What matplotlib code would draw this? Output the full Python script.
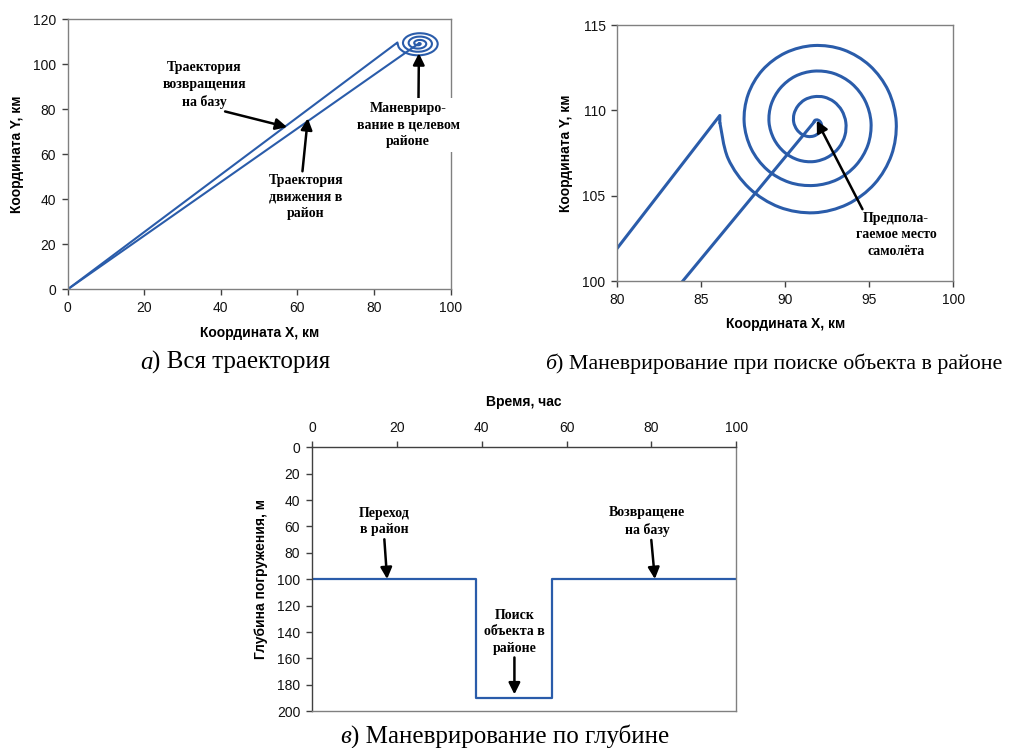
import numpy as np
import matplotlib
matplotlib.use('Agg')
import matplotlib.pyplot as plt
from matplotlib.path import Path
from matplotlib.patches import PathPatch

plt.rcParams['font.family'] = ['Liberation Sans', 'DejaVu Sans']

# --- data ---
base_x, base_y = 0.0, 0.0            # base (start/finish)
centre_x, centre_y = 91.7, 109.3     # assumed aircraft position (spiral centre)
exit_x, exit_y = 86.1, 109.7         # end of search spiral, start of return leg

# search spiral, clockwise outward, one value every 22.5 deg starting at 90 deg
spiral_r = [0.00, 0.10, 0.20, 0.30, 0.40, 0.50, 0.60, 0.70, 0.80, 0.90,
            1.00, 1.10, 1.20, 1.28, 1.35, 1.43, 1.50, 1.60, 1.70, 1.80,
            1.90, 2.00, 2.10, 2.20, 2.30, 2.39, 2.48, 2.57, 2.67, 2.75,
            2.83, 2.92, 3.00, 3.10, 3.20, 3.30, 3.40, 3.48, 3.55, 3.63,
            3.70, 3.81, 3.93, 4.04, 4.15, 4.24, 4.33, 4.41, 4.50, 4.60,
            4.70, 4.80, 4.90, 5.00, 5.10, 5.20, 5.30, 5.38, 5.45, 5.53,
            5.60]

# depth profile
depth_time = [0, 38.6, 38.6, 56.6, 56.6, 100]
depth_m = [100, 100, 190, 190, 100, 100]

# spiral points
ang = np.deg2rad(90 - 22.5 * np.arange(len(spiral_r)))
sp = np.column_stack([centre_x + np.array(spiral_r) * np.cos(ang),
                      centre_y + np.array(spiral_r) * np.sin(ang)])


def smooth_path(pts):
    # cubic Bezier through the points (Catmull-Rom tangents)
    p = np.vstack([pts[0], pts, pts[-1]])
    verts = [pts[0]]
    codes = [Path.MOVETO]
    for i in range(1, len(p) - 2):
        c1 = p[i] + (p[i + 1] - p[i - 1]) / 6
        c2 = p[i + 1] - (p[i + 2] - p[i]) / 6
        verts += [c1, c2, p[i + 1]]
        codes += [Path.CURVE4] * 3
    return Path(verts, codes)


blue = '#2a5caa'
frame = '#808080'
serif = 'Liberation Serif'
ann_kw = dict(fontfamily=serif, fontweight='bold', fontsize=10,
              ha='center', va='center', linespacing=1.35)
arr = dict(arrowstyle='-|>', color='black', lw=1.8, mutation_scale=17,
           shrinkA=0, shrinkB=0)


def style(ax):
    for s in ax.spines.values():
        s.set_color(frame)
        s.set_linewidth(1.0)
    ax.tick_params(direction='out', length=4, width=1, color='#404040',
                   labelsize=10, labelcolor='#111111', pad=4.5)


def draw_track(ax, lw):
    ax.plot([base_x, sp[0, 0]], [base_y, sp[0, 1]], color=blue, lw=lw)
    ax.add_patch(PathPatch(smooth_path(sp), fc='none', ec=blue, lw=lw))
    ax.plot([sp[-1, 0], exit_x, base_x], [sp[-1, 1], exit_y, base_y],
            color=blue, lw=lw)


fig = plt.figure(figsize=(10.13, 7.48), dpi=100)

# a) whole track
ax_a = fig.add_axes([0.0668, 0.6132, 0.3781, 0.361])
draw_track(ax_a, 1.5)
ax_a.set_xlim(0, 100)
ax_a.set_ylim(0, 120)
ax_a.set_xticks(range(0, 101, 20))
ax_a.set_yticks(range(0, 121, 20))
ax_a.set_xlabel('Координата X, км', fontsize=10, fontweight='bold', labelpad=8)
ax_a.set_ylabel('Координата Y, км', fontsize=10, fontweight='bold', labelpad=6)
style(ax_a)
ax_a.annotate('Траектория\nвозвращения\nна базу', xy=(57.3, 72.1), xytext=(35.6, 90.8),
              arrowprops=dict(arr, relpos=(0.62, 0.0)), **ann_kw)
ax_a.annotate('Траектория\nдвижения в\nрайон', xy=(62.7, 76.0), xytext=(62.2, 41.0),
              arrowprops=dict(arr, relpos=(0.45, 1.0)), **ann_kw)
ax_a.annotate('Маневриро-\nвание в целевом\nрайоне', xy=(91.7, 104.9), xytext=(88.9, 73.0),
              arrowprops=dict(arr, relpos=(0.6, 1.0)),
              bbox=dict(boxstyle='square,pad=0.3', fc='white', ec='none'),
              annotation_clip=False, **ann_kw)

# b) search manoeuvre
ax_b = fig.add_axes([0.6094, 0.6243, 0.3317, 0.3422])
draw_track(ax_b, 2.2)
ax_b.set_xlim(80, 100)
ax_b.set_ylim(100, 115)
ax_b.set_xticks(range(80, 101, 5))
ax_b.set_yticks(range(100, 116, 5))
ax_b.set_xlabel('Координата X, км', fontsize=10, fontweight='bold', labelpad=7.5)
ax_b.set_ylabel('Координата Y, км', fontsize=10, fontweight='bold', labelpad=7)
style(ax_b)
ax_b.annotate('Предпола-\nгаемое место\nсамолёта', xy=(91.87, 109.4), xytext=(96.6, 102.7),
              arrowprops=dict(arr, relpos=(0.1, 1.0)), **ann_kw)

# c) depth manoeuvre
ax_c = fig.add_axes([0.308, 0.0491, 0.4189, 0.3529])
ax_c.plot(depth_time, depth_m, color=blue, lw=1.6)
ax_c.set_xlim(0, 100)
ax_c.set_ylim(200, 0)
ax_c.set_xticks(range(0, 101, 20))
ax_c.set_yticks(range(0, 201, 20))
ax_c.xaxis.tick_top()
ax_c.xaxis.set_label_position('top')
ax_c.set_xlabel('Время, час', fontsize=10, fontweight='bold', labelpad=11)
ax_c.set_ylabel('Глубина погружения, м', fontsize=10, fontweight='bold', labelpad=6)
style(ax_c)
ax_c.spines['top'].set_color('#404040')
ax_c.spines['left'].set_color('#404040')
ax_c.annotate('Переход\nв район', xy=(17.7, 99.8), xytext=(17.0, 56.4),
              arrowprops=dict(arr, relpos=(0.5, 0.0)), **ann_kw)
ax_c.annotate('Возвращене\nна базу', xy=(80.8, 99.8), xytext=(79.0, 56.4),
              arrowprops=dict(arr, relpos=(0.55, 0.0)), **ann_kw)
ax_c.annotate('Поиск\nобъекта в\nрайоне', xy=(47.7, 187.2), xytext=(47.7, 139.7),
              arrowprops=dict(arr, relpos=(0.5, 0.0)), **ann_kw)

# captions
captions = [('а', ') Вся траектория', 0.1382, 0.5067, 18),
            ('б', ') Маневрирование при поиске объекта в районе', 0.538, 0.5067, 15.8),
            ('в', ') Маневрирование по глубине', 0.3356, 0.0067, 18)]
for letter, rest, cx, cy, fs in captions:
    t = fig.text(cx, cy, letter, fontfamily=serif, fontstyle='italic',
                 fontsize=fs, ha='left', va='baseline')
    ax_a.annotate(rest, xy=(1, 0), xycoords=t, fontfamily=serif, fontsize=fs,
                  ha='left', va='bottom', annotation_clip=False)

fig.savefig('out.png', dpi=100)
